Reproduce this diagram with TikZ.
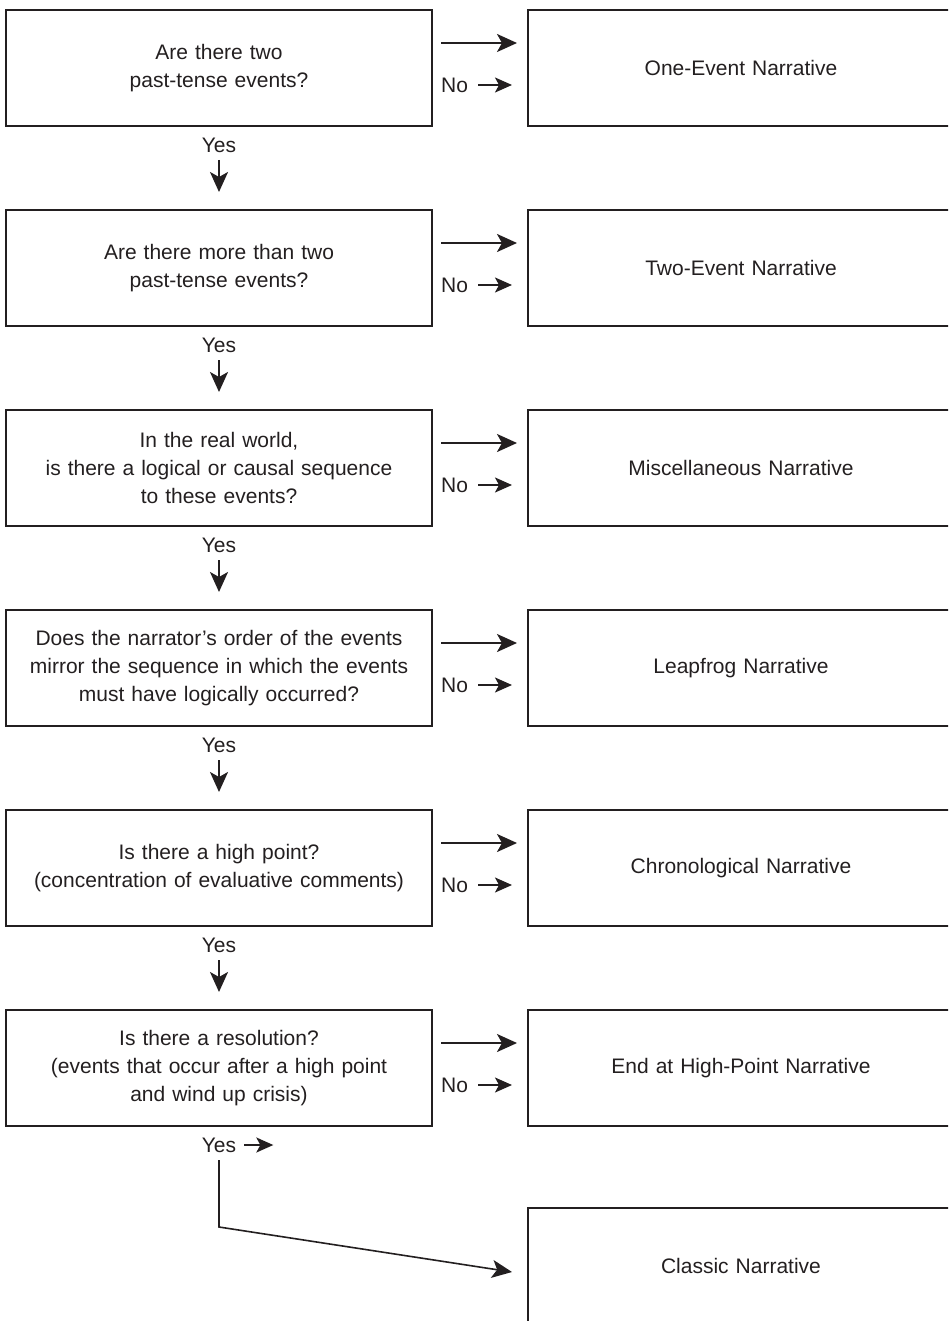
\documentclass[tikz,border=0pt]{standalone}
\usepackage{fontspec}
\setmainfont{Liberation Sans}
\usepackage{tikz}
\usetikzlibrary{positioning,arrows.meta}
\definecolor{inkgray}{RGB}{35,31,32}
\tikzset{
  askbox/.style={draw=inkgray, line width=1.2pt, outer sep=0pt, minimum width=426pt, minimum height=116pt,
                 text width=416pt, align=center, font=\fontsize{21}{28}\selectfont, text=inkgray},
  endbox/.style={askbox},
  lbl/.style={inner sep=0pt, font=\fontsize{21}{28}\selectfont, text=inkgray},
  arr/.style={-{Stealth[length=20pt,width=18pt,inset=5pt]}, line width=2pt, inkgray},
  sarr/.style={-{Stealth[length=17pt,width=15pt,inset=4pt]}, line width=1.8pt, inkgray}
}
\begin{document}
\begin{tikzpicture}
  \useasboundingbox (0,0) rectangle (948pt,-1321pt);
  \clip (0,0) rectangle (948pt,-1321pt);

  % Question column
  \node[askbox] (q1) at (219pt,-68pt) {Are there two\\past-tense events?};
  \node[askbox, below=84pt of q1] (q2) {Are there more than two\\past-tense events?};
  \node[askbox, below=84pt of q2] (q3) {In the real world,\\is there a logical or causal sequence\\to these events?};
  \node[askbox, below=84pt of q3] (q4) {Does the narrator's order of the events\\mirror the sequence in which the events\\must have logically occurred?};
  \node[askbox, below=84pt of q4] (q5) {Is there a high point?\\(concentration of evaluative comments)};
  \node[askbox, below=84pt of q5] (q6) {Is there a resolution?\\(events that occur after a high point\\and wind up crisis)};

  % Narrative types
  \node[endbox, right=96pt of q1] (r1) {One-Event Narrative};
  \node[endbox, right=96pt of q2] (r2) {Two-Event Narrative};
  \node[endbox, right=96pt of q3] (r3) {Miscellaneous Narrative};
  \node[endbox, right=96pt of q4] (r4) {Leapfrog Narrative};
  \node[endbox, right=96pt of q5] (r5) {Chronological Narrative};
  \node[endbox, right=96pt of q6] (r6) {End at High-Point Narrative};
  \node[endbox, below=82pt of r6] (r7) {Classic Narrative};

  % Side arrows and No labels
  \foreach \i in {1,...,6}{
    \draw[arr] ([xshift=9pt,yshift=25pt]q\i.east) -- ([xshift=-11pt,yshift=25pt]r\i.west);
    \node[lbl, anchor=west] (no\i) at ([xshift=9pt,yshift=-17pt]q\i.east) {No};
    \draw[sarr] ([xshift=10pt]no\i.east) -- ([xshift=-16pt,yshift=-17pt]r\i.west);
  }

  % Yes labels going down
  \foreach \i/\j in {1/2,2/3,3/4,4/5,5/6}{
    \node[lbl] (yes\i) at ([yshift=-19pt]q\i.south) {Yes};
    \draw[arr] ([yshift=-15pt]yes\i.center) -- ([yshift=18pt]q\j.north);
  }

  % Last Yes
  \node[lbl] (yes6) at ([yshift=-19pt]q6.south) {Yes};
  \draw[sarr] ([xshift=8pt]yes6.east) -- ++(29pt,0);
  \coordinate (bend) at ([yshift=-101pt]q6.south);
  \draw[arr, line width=1.6pt] ([yshift=-15pt]yes6.center) -- (bend)
    -- ([xshift=-16pt,yshift=-6pt]r7.west);
\end{tikzpicture}
\end{document}
